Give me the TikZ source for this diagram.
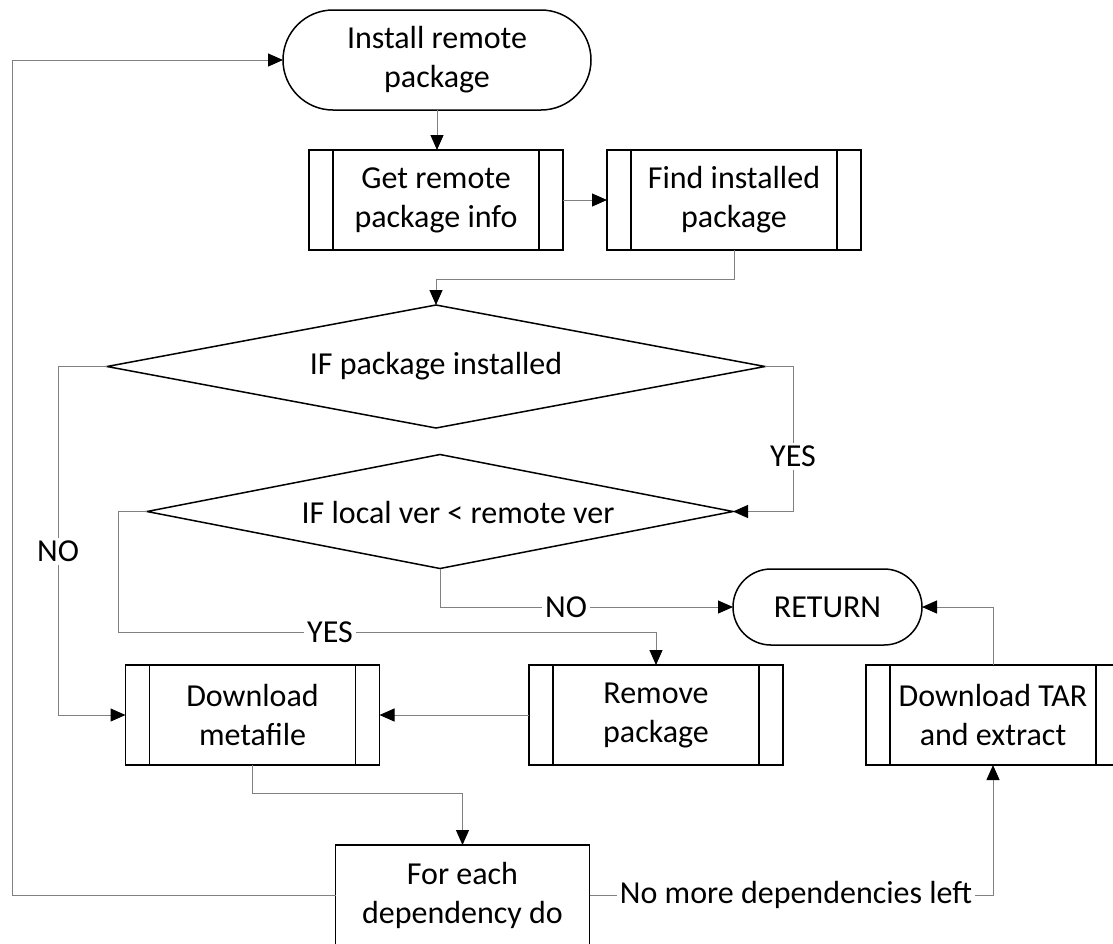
\documentclass[tikz,border=0pt]{standalone}
\usepackage{fontspec}
\setmainfont{Carlito}
\usetikzlibrary{arrows.meta,shapes.geometric,shapes.misc}
\begin{document}
\begin{tikzpicture}[x=0.5pt,y=-0.5pt,
  txt/.style={font=\fontsize{16}{19.5}\selectfont, align=center},
  term/.style={txt, draw=black, line width=0.75pt, rounded rectangle, inner sep=0pt, outer sep=0pt},
  subp/.style={txt, draw=black, line width=0.75pt, rectangle, minimum width=127pt, minimum height=50pt, inner sep=0pt, outer sep=0pt},
  dec/.style={txt, draw=black, line width=0.75pt, diamond, aspect=5, inner sep=0pt, outer sep=0pt},
  conn/.style={draw=black!50, line width=0.5pt, -{Triangle[length=7.5pt,width=6.5pt,color=black]}},
  lbl/.style={txt, fill=white, inner sep=1.5pt}]
\useasboundingbox (0,0) rectangle (1113,943);
\clip (0,0) rectangle (1113,943);
\fill[white] (0,0) rectangle (1113,943);

% nodes
\node[term, minimum width=154pt, minimum height=50pt] (inst) at (437,60) {Install remote\\package};
\node[subp] (get) at (436,200) {Get remote\\package info};
\node[subp] (find) at (734,200) {Find installed\\package};
\node[dec, minimum width=329pt, minimum height=61.5pt] (d1) at (436,366.5) {IF package installed};
\node[dec, minimum width=293pt, minimum height=57pt] (d2) at (440,511.5) {};
\node[txt] (d2t) at (458,512) {IF local ver < remote ver};
\node[term, minimum width=94.5pt, minimum height=38pt] (ret) at (827.5,607) {RETURN};
\node[subp] (dlm) at (252.5,715) {Download\\metafile};
\node[subp] (rem) at (656,715) {Remove\\package};
\node[subp] (tar) at (993,715) {Download TAR\\and extract};
\node[subp] (fe) at (462.5,895) {For each\\dependency do};

% subprocess side bars
\foreach \n in {get,find,dlm,rem,tar}{
  \draw[line width=0.75pt] ([xshift=12pt]\n.north west) -- ([xshift=12pt]\n.south west)
     ([xshift=-12pt]\n.north east) -- ([xshift=-12pt]\n.south east);
}

% connectors
\draw[conn] (inst.south) -- (inst.south |- get.north);
\draw[conn] (get.east) -- (find.west);
\draw[conn] (find.south) -- ++(0,29) -| (d1.north);
\draw[conn] (d1.east) -- ++(28,0) |- (d2.east);
\draw[conn] (d1.west) -- ++(-49,0) |- (dlm.west);
\draw[conn] (d2.west) -- ++(-29,0) -- ++(0,120.5) -| (rem.north);
\draw[conn] (d2.south) |- (ret.west);
\draw[conn] (rem.west) -- (dlm.east);
\draw[conn] (dlm.south) -- ++(0,28) -| (fe.north);
\draw[conn] (fe.west) -- (12,895) |- (inst.west);
\draw[conn] (fe.east) -| (tar.south);
\draw[conn] (tar.north) |- (ret.east);

% labels
\node[lbl] (l1) at (58,551) {NO};
\node[lbl] (l2) at (793,456) {YES};
\node[lbl] (l3) at (330,632) {YES};
\node[lbl] (l4) at (566,607) {NO};
\node[lbl] (l5) at (796,895) {No more dependencies left};
\end{tikzpicture}
\end{document}
